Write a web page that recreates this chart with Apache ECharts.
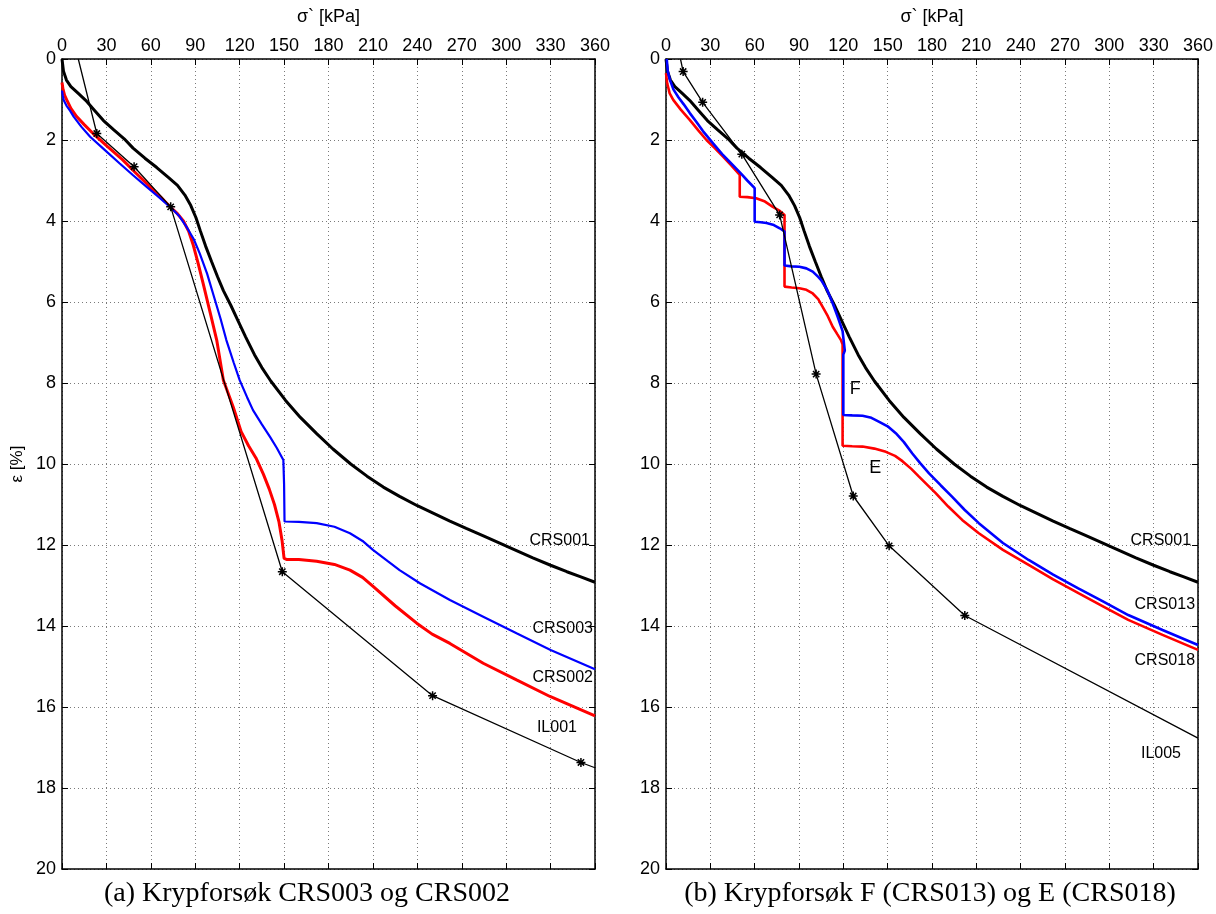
<!DOCTYPE html>
<html><head><meta charset="utf-8">
<script src="https://cdn.jsdelivr.net/npm/echarts@6/dist/echarts.min.js"></script>
<style>html,body{margin:0;padding:0;background:#fff}#c{width:1216px;height:914px}</style>
</head><body><div id="c"></div>
<script>
// ---- data (σ' kPa, ε %) ----
const crs001 = [[0,0],[1,0.3],[3,0.52],[6,0.68],[11,0.85],[16,1.02],[22,1.27],[28,1.52],[35,1.75],[42,1.97],[48,2.2],[56,2.45],[64,2.68],[72,2.93],[78,3.12],[83,3.36],[87,3.62],[90.5,3.92],[93.5,4.25],[97,4.62],[101,5.0],[105,5.37],[109,5.72],[114,6.08],[119,6.47],[124,6.86],[130,7.3],[135,7.62],[141,7.95],[151,8.43],[161,8.85],[172,9.25],[183,9.63],[195,10.0],[206,10.3],[217,10.57],[228,10.8],[240,11.03],[251,11.22],[262,11.41],[273,11.59],[285,11.78],[296,11.96],[307,12.14],[318,12.32],[330,12.5],[341,12.66],[350,12.78],[360,12.92]];
const crs002 = [[0,0.58],[0.7,0.75],[1.8,0.9],[3.2,1.01],[6,1.22],[9.9,1.42],[15,1.62],[21,1.84],[31,2.17],[41,2.49],[50,2.82],[59.4,3.15],[67,3.42],[73,3.65],[78,3.82],[82,4.0],[85.5,4.25],[88.7,4.6],[92,5.05],[95.4,5.55],[100,6.25],[104.5,6.94],[109,7.93],[115.7,8.6],[121,9.2],[126,9.55],[131,9.85],[136,10.25],[140,10.62],[143.5,11.0],[146.5,11.42],[148.6,11.88],[150,12.33],[152,12.36],[160,12.36],[172,12.4],[184,12.48],[194.5,12.62],[203,12.8],[210.3,13.03],[225,13.5],[239.6,13.93],[250,14.2],[262,14.43],[284.5,14.92],[307,15.33],[329.6,15.74],[360,16.22]];
const crs003 = [[0,0.78],[0.5,0.9],[1.2,1.02],[3,1.15],[5.5,1.28],[8,1.43],[13,1.67],[19,1.92],[29,2.25],[39,2.58],[48,2.87],[57,3.15],[65,3.4],[73,3.65],[79,3.87],[84,4.14],[89,4.45],[93,4.8],[98,5.3],[102,5.79],[107,6.4],[111,6.94],[116,7.5],[120,7.93],[125,8.35],[129,8.67],[135,9.02],[140.5,9.33],[145,9.6],[149.5,9.9],[150,10.5],[150.3,11.42],[160,11.43],[172,11.46],[184,11.55],[194.5,11.71],[203,11.9],[210,12.12],[220,12.4],[228,12.62],[242,12.95],[262,13.36],[284.5,13.77],[307,14.18],[330,14.59],[360,15.07]];
const il001 = [[11,0],[23.5,1.84],[48.7,2.66],[73.4,3.65],[148.8,12.66],[250.3,15.72],[350.5,17.37],[360,17.5]];
const crs013 = [[0.5,0],[1.2,0.3],[2.6,0.51],[5,0.75],[8.5,0.95],[12,1.12],[16,1.33],[20.5,1.55],[25,1.78],[32,2.09],[38,2.35],[42,2.5],[50,2.8],[55,3.0],[60,3.19],[60,4.02],[64,4.03],[68,4.05],[73,4.1],[77,4.18],[80.2,4.26],[80.2,5.1],[85,5.12],[90.3,5.13],[95,5.17],[99.3,5.25],[103,5.38],[105,5.46],[109,5.7],[112.8,6.03],[116,6.35],[119.5,6.72],[121,7.2],[120,7.3],[120,8.79],[126,8.8],[133,8.81],[139,8.86],[144.3,8.96],[150,9.07],[155.5,9.24],[161,9.46],[166.7,9.74],[172,9.98],[178,10.23],[186,10.53],[193.7,10.81],[202,11.13],[211.7,11.46],[228,11.95],[245.4,12.37],[262,12.73],[279,13.07],[296,13.4],[312.8,13.73],[336,14.1],[360,14.47]];
const crs018 = [[0,0.35],[0.8,0.6],[2.5,0.85],[4.9,1.01],[10,1.25],[16.2,1.51],[22,1.77],[27.4,2.0],[33,2.2],[38.6,2.41],[44,2.62],[49.9,2.86],[49.9,3.4],[55,3.41],[61,3.44],[67,3.52],[72.3,3.65],[77,3.75],[80.2,3.85],[80.2,5.62],[85,5.64],[90.3,5.66],[95,5.7],[99.3,5.79],[103,5.93],[106,6.12],[109.5,6.35],[112.8,6.61],[116,6.8],[118.4,6.94],[119.5,7.05],[119.5,9.55],[126,9.56],[133,9.57],[141,9.62],[148.8,9.7],[155,9.8],[160,9.93],[166,10.12],[171.2,10.31],[177,10.52],[182.5,10.72],[191,11.05],[200.4,11.38],[211.7,11.71],[228,12.12],[245.4,12.49],[262,12.85],[279.1,13.19],[296,13.52],[312.8,13.85],[336,14.22],[360,14.59]];
const il005 = [[9.8,0],[11.6,0.31],[24.8,1.07],[51.3,2.35],[76.9,3.85],[101.6,7.78],[126.7,10.79],[151,12.02],[202.2,13.74],[360,16.77]];
const xMin = 0, xMax = 360, xStep = 30;
const yMin = 0, yMax = 20, yStep = 2;
const xName = 'σ` [kPa]';
const yName = 'ε [%]';
const captions = ['(a) Krypforsøk CRS003 og CRS002', '(b) Krypforsøk F (CRS013) og E (CRS018)'];

// ---- chart ----
const SANS = 'Liberation Sans, Arial, sans-serif';
const SERIF = 'Liberation Serif, Times New Roman, serif';
const chart = echarts.init(document.getElementById('c'), null, {renderer: 'canvas'});
const grids = [
  {left: 62, top: 59, width: 533, height: 810},
  {left: 666, top: 59, width: 534, height: 810}
];
const frameLine = {onZero: false, lineStyle: {color: '#000', width: 1.5}};
const tick = {inside: true, length: 6, lineStyle: {color: '#000', width: 1}};
const dotted = {show: true, lineStyle: {color: '#7a7a7a', width: 1, type: [1, 3]}};
const xAxes = [], yAxes = [];
[0, 1].forEach(g => {
  xAxes.push({gridIndex: g, type: 'value', position: 'top', min: xMin, max: xMax, interval: xStep,
    axisLine: frameLine, axisTick: tick, splitLine: dotted,
    axisLabel: {color: '#000', fontSize: 18, fontFamily: SANS, margin: 4},
    name: xName, nameLocation: 'middle', nameGap: 33,
    nameTextStyle: {color: '#000', fontSize: 18, fontFamily: SANS}});
  xAxes.push({gridIndex: g, type: 'value', position: 'bottom', min: xMin, max: xMax, interval: xStep,
    axisLine: frameLine, axisTick: tick, splitLine: {show: false}, axisLabel: {show: false}});
  yAxes.push({gridIndex: g, type: 'value', position: 'left', inverse: true, min: yMin, max: yMax, interval: yStep,
    axisLine: frameLine, axisTick: tick, splitLine: dotted,
    axisLabel: {color: '#000', fontSize: 18, fontFamily: SANS, margin: 6},
    name: g === 0 ? yName : '', nameLocation: 'middle', nameGap: 36, nameRotate: 90,
    nameTextStyle: {color: '#000', fontSize: 17, fontFamily: SANS}});
  yAxes.push({gridIndex: g, type: 'value', position: 'right', inverse: true, min: yMin, max: yMax, interval: yStep,
    axisLine: frameLine, axisTick: tick, splitLine: {show: false}, axisLabel: {show: false}});
});
const STAR = 'path://M5,0L5,10M0,5L10,5M1.5,1.5L8.5,8.5M1.5,8.5L8.5,1.5';
function curve(data, g, color, width) {
  return {type: 'line', xAxisIndex: g * 2, yAxisIndex: g * 2, data: data, symbol: 'none',
    lineStyle: {color: color, width: width}, silent: true};
}
function ilCurve(data, g) {
  return {type: 'line', xAxisIndex: g * 2, yAxisIndex: g * 2, silent: true,
    data: data.map((p, i) => ({value: p, symbol: (i > 0 && i < data.length - 1) ? STAR : 'none'})),
    symbolSize: 9, symbolKeepAspect: true, showSymbol: true,
    itemStyle: {color: '#000', borderColor: '#000', borderWidth: 1.5},
    lineStyle: {color: '#000', width: 1.3}};
}
const option = {
  animation: false,
  backgroundColor: '#fff',
  grid: grids,
  xAxis: xAxes,
  yAxis: yAxes,
  series: [
    curve(crs001, 0, '#000', 3),
    curve(crs002, 0, '#ff0000', 3),
    curve(crs003, 0, '#0000ff', 2.2),
    ilCurve(il001, 0),
    curve(crs001, 1, '#000', 3),
    curve(crs018, 1, '#ff0000', 2.6),
    curve(crs013, 1, '#0000ff', 2.6),
    ilCurve(il005, 1)
  ]
};
chart.setOption(option);

function txt(g, text, pt, align, size) {
  const p = chart.convertToPixel({xAxisIndex: g * 2, yAxisIndex: g * 2}, pt);
  return {type: 'text', x: p[0], y: p[1], silent: true,
    style: {text: text, fill: '#000', font: size + 'px ' + SANS, textAlign: align, textVerticalAlign: 'middle'}};
}
function caption(text, x) {
  return {type: 'text', x: x, y: 894, silent: true,
    style: {text: text, fill: '#000', font: '28px ' + SERIF, textAlign: 'center', textVerticalAlign: 'middle'}};
}
const graphics = [
  txt(0, 'CRS001', [356.6, 11.88], 'right', 16),
  txt(0, 'CRS003', [358.6, 14.07], 'right', 16),
  txt(0, 'CRS002', [358.6, 15.28], 'right', 16),
  txt(0, 'IL001', [347.8, 16.52], 'right', 16),
  txt(1, 'CRS001', [355.3, 11.9], 'right', 16),
  txt(1, 'CRS013', [358.0, 13.46], 'right', 16),
  txt(1, 'CRS018', [358.0, 14.86], 'right', 16),
  txt(1, 'IL005', [348.5, 17.14], 'right', 16),
  txt(1, 'F', [128.1, 8.15], 'center', 18),
  txt(1, 'E', [141.6, 10.1], 'center', 18),
  caption(captions[0], 307),
  caption(captions[1], 930)
];
chart.setOption({graphic: graphics});
</script></body></html>
